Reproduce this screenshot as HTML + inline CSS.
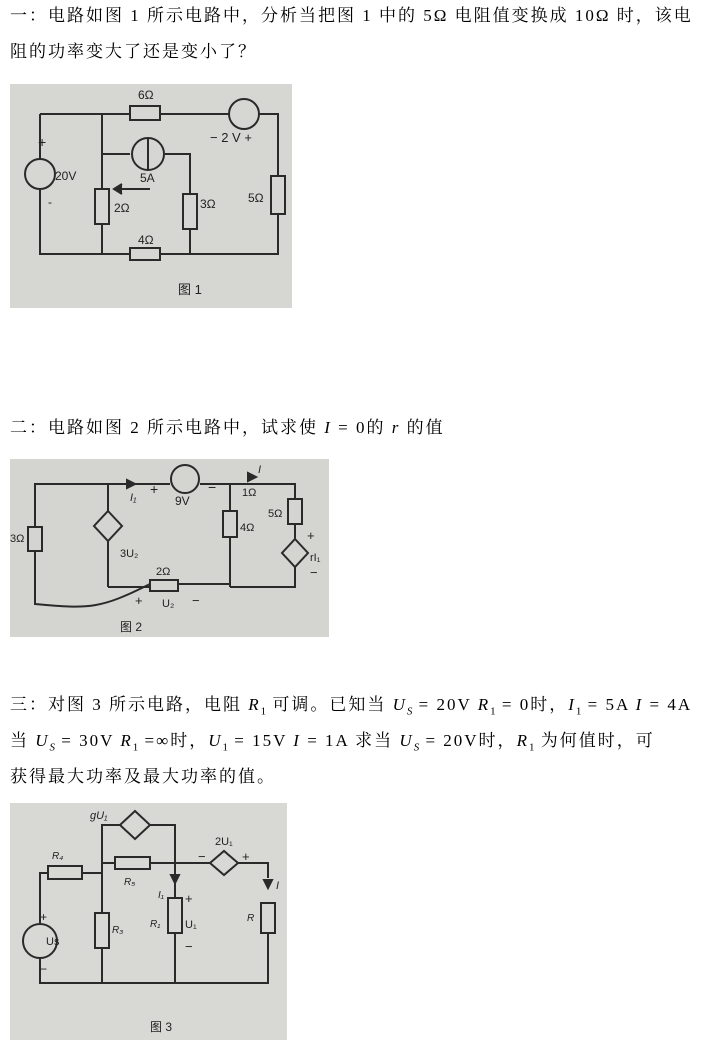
<!DOCTYPE html>
<html><head><meta charset="utf-8"><style>
body{margin:0;width:713px;height:1046px;background:#fff;position:relative;overflow:hidden;font-family:"Liberation Serif","Noto Serif CJK SC",serif;font-size:17px;color:#000}
.t{position:absolute;left:10px;white-space:nowrap;line-height:20px;letter-spacing:2px}
i{font-style:italic}
sub{font-size:11px;letter-spacing:0}
svg{position:absolute}
svg text{font-family:"Liberation Sans","Noto Sans CJK SC",sans-serif;fill:#222}
</style></head><body>
<div class="t" style="top:6px">一：电路如图 1 所示电路中，分析当把图 1 中的 5Ω 电阻值变换成 10Ω 时，该电</div>
<div class="t" style="top:42px">阻的功率变大了还是变小了？</div>

<svg style="left:10px;top:84px" width="282" height="224" viewBox="0 0 282 224">
<rect width="282" height="224" fill="#d6d6d3"/>
<g stroke="#2a2a2a" stroke-width="2" fill="none">
<path d="M30 30 H120 M150 30 H220 M248 30 H268 V100 M268 130 V170 H150 M120 170 H30 V105 M30 75 V30"/>
<rect x="120" y="22" width="30" height="14" fill="#d6d6d3"/>
<circle cx="30" cy="90" r="15" fill="#d6d6d3"/>
<circle cx="234" cy="30" r="15" fill="#d6d6d3"/>
<rect x="261" y="92" width="14" height="38" fill="#d6d6d3"/>
<path d="M92 30 V105 M92 140 V170"/>
<rect x="85" y="105" width="14" height="35" fill="#d6d6d3"/>
<path d="M92 70 H120 M155 70 H180 V110 M180 145 V170"/>
<circle cx="138" cy="70" r="16" fill="#d6d6d3"/>
<path d="M138 54 V86"/>
<rect x="173" y="110" width="14" height="35" fill="#d6d6d3"/>
<rect x="120" y="164" width="30" height="12" fill="#d6d6d3"/>
<path d="M140 105 H108"/><path d="M112 100 L104 105 L112 110" fill="#2a2a2a"/>
</g>
<text x="128" y="15" font-size="12">6Ω</text><text x="200" y="58" font-size="13">− 2 V +</text>
<text x="28" y="63" font-size="14">+</text><text x="45" y="96" font-size="12">20V</text><text x="38" y="122" font-size="12">-</text>
<text x="130" y="98" font-size="12">5A</text><text x="104" y="128" font-size="12">2Ω</text>
<text x="190" y="124" font-size="12">3Ω</text><text x="238" y="118" font-size="12">5Ω</text>
<text x="128" y="160" font-size="12">4Ω</text><text x="168" y="210" font-size="13">图 1</text>
</svg>

<div class="t" style="top:418px">二：电路如图 2 所示电路中，试求使 <i>I</i> = 0的 <i>r</i> 的值</div>

<svg style="left:10px;top:459px" width="319" height="178" viewBox="0 0 319 178">
<rect width="319" height="178" fill="#d4d4d0"/>
<g stroke="#2a2a2a" stroke-width="2" fill="none">
<path d="M25 68 V25 H160 M190 25 H285 V40 M285 65 V80 M285 108 V128 H220 M25 92 V145 C80 150 90 150 140 125 M160 125 H220"/>
<rect x="18" y="68" width="14" height="24" fill="#d4d4d0"/>
<circle cx="175" cy="20" r="14" fill="#d4d4d0"/>
<rect x="278" y="40" width="14" height="25" fill="#d4d4d0"/>
<path d="M285 80 L298 94 L285 108 L272 94 Z" fill="#d4d4d0"/>
<path d="M98 25 V52 M98 82 V128 M98 128 H140"/>
<path d="M98 52 L112 67 L98 82 L84 67 Z" fill="#d4d4d0"/>
<rect x="140" y="121" width="28" height="11" fill="#d4d4d0"/>
<path d="M220 25 V52 M220 78 V128"/>
<rect x="213" y="52" width="14" height="26" fill="#d4d4d0"/>
<path d="M125 25 L117 21 V29 Z M246 18 L238 14 V22 Z" fill="#2a2a2a"/>
</g>
<text x="120" y="42" font-size="11" font-style="italic">I₁</text><text x="140" y="35" font-size="14">+</text>
<text x="165" y="46" font-size="12">9V</text><text x="198" y="33" font-size="14">−</text>
<text x="248" y="14" font-size="11" font-style="italic">I</text><text x="232" y="37" font-size="11">1Ω</text>
<text x="258" y="58" font-size="11">5Ω</text><text x="230" y="72" font-size="11">4Ω</text>
<text x="0" y="83" font-size="11">3Ω</text><text x="110" y="98" font-size="11">3U₂</text>
<text x="146" y="116" font-size="11">2Ω</text><text x="125" y="146" font-size="13">+</text>
<text x="152" y="148" font-size="11">U₂</text><text x="182" y="146" font-size="13">−</text>
<text x="297" y="81" font-size="13">+</text><text x="300" y="102" font-size="11">rI₁</text><text x="300" y="118" font-size="13">−</text>
<text x="110" y="172" font-size="12">图 2</text>
</svg>

<div class="t" style="top:695px">三：对图 3 所示电路，电阻 <i>R</i><sub>1</sub> 可调。已知当 <i>U<sub>S</sub></i> = 20V <i>R</i><sub>1</sub> = 0时，<i>I</i><sub>1</sub> = 5A <i>I</i> = 4A</div>
<div class="t" style="top:731px">当 <i>U<sub>S</sub></i> = 30V <i>R</i><sub>1</sub> =∞时，<i>U</i><sub>1</sub> = 15V <i>I</i> = 1A 求当 <i>U<sub>S</sub></i> = 20V时，<i>R</i><sub>1</sub> 为何值时，可</div>
<div class="t" style="top:767px">获得最大功率及最大功率的值。</div>

<svg style="left:10px;top:803px" width="277" height="237" viewBox="0 0 277 237">
<rect width="277" height="237" fill="#d8d8d5"/>
<g stroke="#2a2a2a" stroke-width="2" fill="none">
<path d="M30 120 V70 H38 M72 70 H92 V22 H110 M140 22 H165 V60 M92 60 H105 M140 60 H258 V75 M258 130 V180 H30 V155"/>
<rect x="38" y="63" width="34" height="13" fill="#d8d8d5"/>
<path d="M110 22 L125 8 L140 22 L125 36 Z" fill="#d8d8d5"/>
<rect x="105" y="54" width="35" height="12" fill="#d8d8d5"/>
<circle cx="30" cy="138" r="17" fill="#d8d8d5"/>
<path d="M92 60 V110 M92 145 V180"/>
<rect x="85" y="110" width="14" height="35" fill="#d8d8d5"/>
<path d="M165 60 V95 M165 130 V180"/>
<rect x="158" y="95" width="14" height="35" fill="#d8d8d5"/>
<path d="M200 60 L214 48 L228 60 L214 72 Z" fill="#d8d8d5"/>
<rect x="251" y="100" width="14" height="30" fill="#d8d8d5"/>
<path d="M165 80 L161 72 H169 Z M258 85 L254 77 H262 Z" fill="#2a2a2a"/>
</g>
<text x="80" y="16" font-size="11" font-style="italic">gU₁</text>
<text x="42" y="56" font-size="10" font-style="italic">R₄</text><text x="114" y="82" font-size="10" font-style="italic">R₅</text>
<text x="205" y="42" font-size="11">2U₁</text><text x="188" y="58" font-size="13">−</text><text x="232" y="58" font-size="13">+</text>
<text x="148" y="95" font-size="10" font-style="italic">I₁</text><text x="175" y="100" font-size="13">+</text>
<text x="140" y="124" font-size="10" font-style="italic">R₁</text><text x="175" y="125" font-size="11">U₁</text><text x="175" y="148" font-size="13">−</text>
<text x="266" y="86" font-size="11" font-style="italic">I</text><text x="237" y="118" font-size="10" font-style="italic">R</text>
<text x="102" y="130" font-size="10" font-style="italic">R₃</text>
<text x="30" y="118" font-size="12">+</text><text x="36" y="142" font-size="11">Us</text><text x="30" y="170" font-size="12">−</text>
<text x="140" y="228" font-size="12">图 3</text>
</svg>
</body></html>
